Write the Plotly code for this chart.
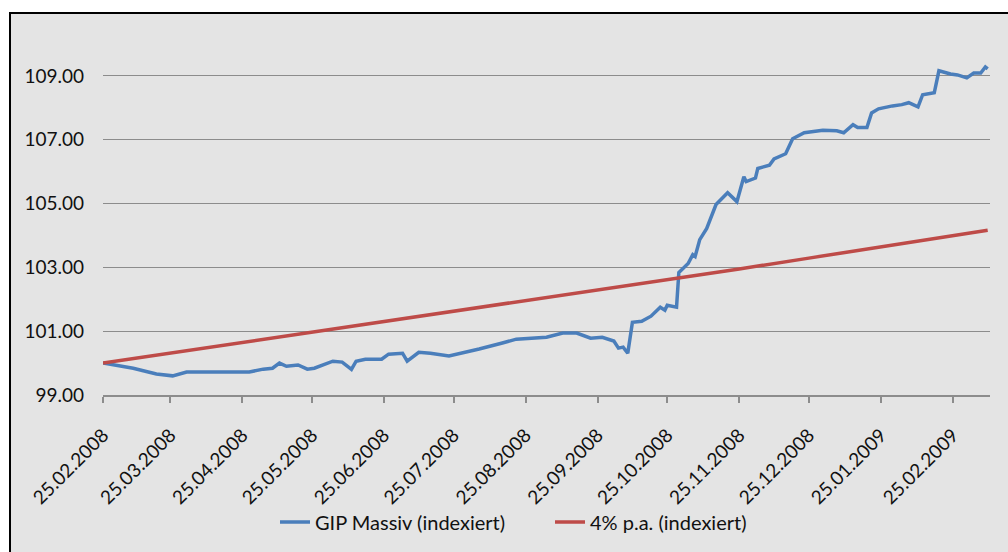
import plotly.graph_objects as go

# ---- data ----
gip_dates = [
    "2008-02-25", "2008-03-09", "2008-03-19", "2008-03-26", "2008-04-01", "2008-04-14",
    "2008-04-28", "2008-05-04", "2008-05-08", "2008-05-11", "2008-05-14", "2008-05-19",
    "2008-05-23", "2008-05-26", "2008-05-31", "2008-06-03", "2008-06-07", "2008-06-11",
    "2008-06-13", "2008-06-17", "2008-06-24", "2008-06-27", "2008-07-03", "2008-07-05",
    "2008-07-10", "2008-07-15", "2008-07-23", "2008-07-29", "2008-08-05", "2008-08-15",
    "2008-08-21", "2008-09-03", "2008-09-10", "2008-09-16", "2008-09-22", "2008-09-27",
    "2008-10-02", "2008-10-04", "2008-10-06", "2008-10-08", "2008-10-10", "2008-10-14",
    "2008-10-18", "2008-10-22", "2008-10-24", "2008-10-25", "2008-10-29", "2008-10-30",
    "2008-11-01", "2008-11-03", "2008-11-05", "2008-11-06", "2008-11-08", "2008-11-11",
    "2008-11-15", "2008-11-20", "2008-11-24", "2008-11-27", "2008-11-28", "2008-12-02",
    "2008-12-03", "2008-12-08", "2008-12-10", "2008-12-15", "2008-12-18", "2008-12-23",
    "2008-12-31", "2009-01-06", "2009-01-09", "2009-01-13", "2009-01-15", "2009-01-19",
    "2009-01-21", "2009-01-24", "2009-01-30", "2009-02-03", "2009-02-06", "2009-02-10",
    "2009-02-12", "2009-02-17", "2009-02-19", "2009-02-24", "2009-02-27", "2009-03-03",
    "2009-03-06", "2009-03-09", "2009-03-11", "2009-03-12",
]
gip_values = [
    100.00, 99.84, 99.66, 99.60, 99.72, 99.72,
    99.72, 99.81, 99.84, 100.00, 99.90, 99.94,
    99.81, 99.84, 99.97, 100.06, 100.03, 99.80,
    100.06, 100.12, 100.12, 100.28, 100.31, 100.06,
    100.34, 100.31, 100.22, 100.31, 100.44, 100.63,
    100.75, 100.81, 100.94, 100.94, 100.78, 100.81,
    100.69, 100.47, 100.50, 100.31, 101.28, 101.31,
    101.47, 101.75, 101.66, 101.81, 101.75, 102.84,
    102.97, 103.12, 103.40, 103.34, 103.87, 104.22,
    104.97, 105.34, 105.06, 105.84, 105.69, 105.80,
    106.10, 106.20, 106.40, 106.56, 107.03, 107.22,
    107.30, 107.28, 107.22, 107.47, 107.38, 107.38,
    107.84, 107.97, 108.06, 108.10, 108.16, 108.03,
    108.41, 108.47, 109.16, 109.06, 109.03, 108.94,
    109.09, 109.09, 109.28, 109.22,
]

ref_dates = [
    "2008-02-25", "2008-03-25", "2008-04-25", "2008-05-25", "2008-06-25", "2008-07-25",
    "2008-08-25", "2008-09-25", "2008-10-25", "2008-11-25", "2008-12-25", "2009-01-25",
    "2009-02-25", "2009-03-12",
]
ref_values = [
    100.00, 100.31, 100.64, 100.96, 101.30, 101.62,
    101.96, 102.29, 102.62, 102.95, 103.29, 103.63,
    103.97, 104.16,
]

tick_dates = ref_dates[:13]
tick_labels = [
    "25.02.2008", "25.03.2008", "25.04.2008", "25.05.2008", "25.06.2008", "25.07.2008",
    "25.08.2008", "25.09.2008", "25.10.2008", "25.11.2008", "25.12.2008", "25.01.2009",
    "25.02.2009",
]
y_ticks = [99, 101, 103, 105, 107, 109]
y_labels = ["99.00", "101.00", "103.00", "105.00", "107.00", "109.00"]

series_names = ["GIP Massiv (indexiert)", "4% p.a. (indexiert)"]

# ---- figure ----
W, H = 1008, 552
ML, MR, MT, MB = 103, 18, 44, 157
PW, PH = W - ML - MR, H - MT - MB

def px_x(p):
    return (p - ML) / PW

def px_y(p):
    return (H - MB - p) / PH

font_family = "Lato, 'Open Sans', sans-serif"

fig = go.Figure()
fig.add_trace(go.Scatter(
    x=gip_dates, y=gip_values, mode="lines", name=series_names[0],
    line=dict(color="#4a7ebb", width=3.5),
))
fig.add_trace(go.Scatter(
    x=ref_dates, y=ref_values, mode="lines", name=series_names[1],
    line=dict(color="#be4b48", width=3.5),
))

fig.add_shape(
    type="rect", xref="paper", yref="paper", layer="below",
    x0=px_x(10), x1=px_x(1012), y0=px_y(560), y1=px_y(13),
    fillcolor="#e4e4e4", line=dict(color="black", width=2),
)

fig.update_layout(
    width=W, height=H,
    margin=dict(l=ML, r=MR, t=MT, b=MB, autoexpand=False),
    paper_bgcolor="white",
    plot_bgcolor="rgba(0,0,0,0)",
    font=dict(family=font_family, size=19, color="#1a1a1a"),
    showlegend=True,
    legend=dict(
        orientation="h", x=px_x(275), xanchor="left", y=px_y(522), yanchor="middle",
        font=dict(size=20, color="#111111"),
        bgcolor="rgba(0,0,0,0)",
        entrywidth=230, entrywidthmode="pixels",
    ),
    xaxis=dict(
        type="date",
        range=["2008-02-25", "2009-03-13"],
        tickvals=tick_dates, ticktext=tick_labels,
        tickangle=-45,
        showgrid=False,
        showline=True, linecolor="#8c8c8c", linewidth=1.5,
        ticks="outside", ticklen=6, tickcolor="#8c8c8c", tickwidth=1.5,
        ticklabelstandoff=14,
        tickfont=dict(size=19, color="#111111"),
        zeroline=False,
    ),
    yaxis=dict(
        range=[99, 110],
        tickvals=y_ticks, ticktext=y_labels,
        showgrid=True, gridcolor="#8c8c8c", gridwidth=1.2,
        showline=False, ticks="",
        ticklabelstandoff=18,
        tickfont=dict(size=19, color="#111111"),
        zeroline=False,
    ),
)

fig.write_html("out.html")
